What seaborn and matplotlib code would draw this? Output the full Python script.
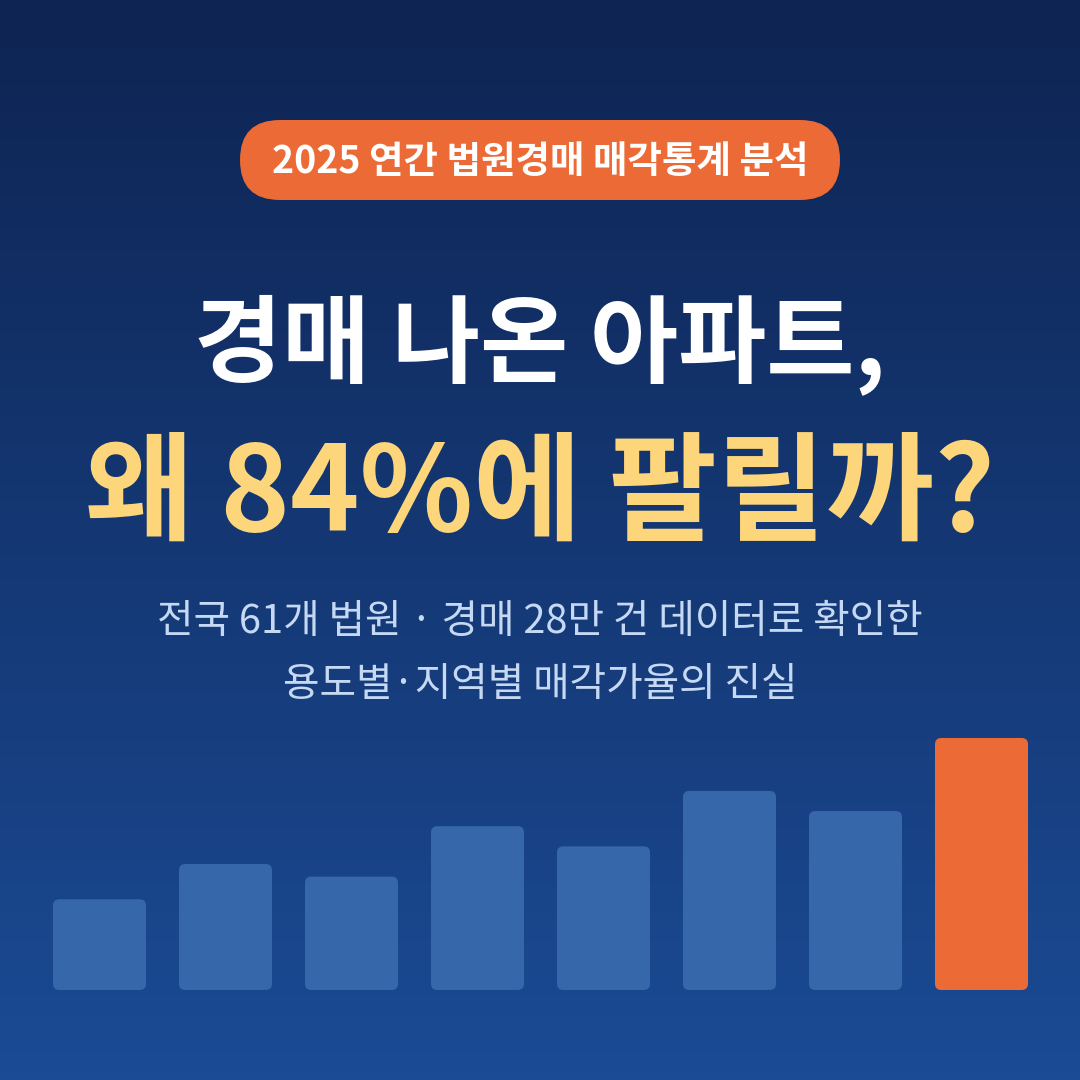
import numpy as np
import pandas as pd
import matplotlib
matplotlib.use('Agg')
import matplotlib.pyplot as plt
from matplotlib.patches import FancyBboxPatch
import seaborn as sns

sns.set_style('white')
plt.rcParams['font.family'] = ['Noto Sans CJK KR', 'DejaVu Sans']

# data
badge_text = '2025 연간 법원경매 매각통계 분석'
title_line1 = '경매 나온 아파트,'
title_line2 = '왜 84%에 팔릴까?'
sub_line1 = '전국 61개 법원 · 경매 28만 건 데이터로 확인한'
sub_line2 = '용도별·지역별 매각가율의 진실'
bar_labels = ['b1', 'b2', 'b3', 'b4', 'b5', 'b6', 'b7', 'b8']
bar_values = [36, 50, 45, 65, 57, 79, 71, 100]
highlight = [False, False, False, False, False, False, False, True]

W = 1080
fig = plt.figure(figsize=(10.8, 10.8), dpi=100)

# gradient background
bg = fig.add_axes([0, 0, 1, 1])
top = np.array([14, 36, 82]) / 255
bot = np.array([27, 75, 149]) / 255
t = np.linspace(0, 1, 512)[:, None, None]
grad = top * (1 - t) + bot * t
grad = np.repeat(grad, 2, axis=1)
bg.imshow(grad, extent=[0, W, W, 0], aspect='auto', interpolation='bilinear')
bg.set_xlim(0, W)
bg.set_ylim(W, 0)
bg.axis('off')

# badge
pill = FancyBboxPatch((240, 120), 600, 80, boxstyle='round,pad=0,rounding_size=40',
                      fc='#eb6a35', ec='none')
bg.add_patch(pill)
bg.text(540, 161, badge_text, ha='center', va='center', color='white',
        fontsize=27, fontweight='bold')

# headline
bg.text(540, 345, title_line1, ha='center', va='center', color='white',
        fontsize=69, fontweight='bold')
bg.text(540, 496, title_line2, ha='center', va='center', color='#fdd67c',
        fontsize=85, fontweight='bold')

# subtitle
bg.text(540, 622, sub_line1, ha='center', va='center', color='#c6d9f4', fontsize=28.6)
bg.text(540, 685, sub_line2, ha='center', va='center', color='#c6d9f4', fontsize=28.6)

# bars
df = pd.DataFrame({'label': bar_labels, 'value': bar_values})
palette = {l: ('#ec6a35' if h else '#3767ab') for l, h in zip(bar_labels, highlight)}
ax = fig.add_axes([0, 90 / W, 1, 252 / W])
ax.set_facecolor('none')
sns.barplot(data=df, x='label', y='value', hue='label', palette=palette,
            width=93 / 126, legend=False, saturation=1, ax=ax)
ax.set_xlim(-99.5 / 126, (W - 99.5) / 126)
ax.set_ylim(0, 100)
ax.axis('off')

# round the bar corners
asp = 126 / 2.52
for p in list(ax.patches):
    x, y = p.get_x(), p.get_y()
    w, h = p.get_width(), p.get_height()
    rb = FancyBboxPatch((x, y), w, h, boxstyle='round,pad=0,rounding_size=0.05',
                        mutation_aspect=asp, fc=p.get_facecolor(), ec='none')
    p.remove()
    ax.add_patch(rb)

fig.savefig('out.png', dpi=100)
